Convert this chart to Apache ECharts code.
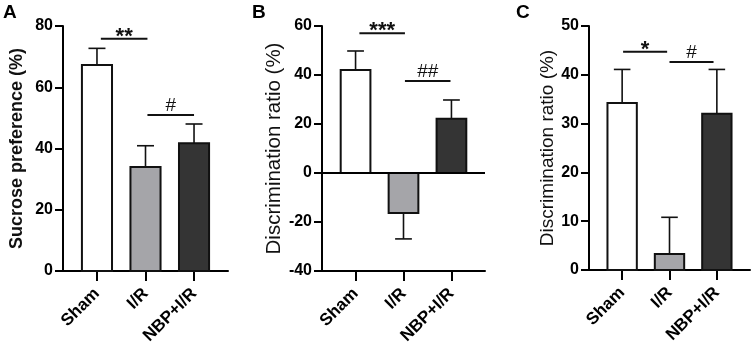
<!DOCTYPE html>
<html>
<head>
<meta charset="utf-8">
<script src="https://cdn.jsdelivr.net/npm/echarts@6/dist/echarts.min.js"></script>
<style>
  html, body { margin: 0; padding: 0; background: #fff; }
  #chart { width: 754px; height: 351px; }
</style>
</head>
<body>
<div id="chart"></div>
<script>
// groups (same for all three panels)
var categories = ['Sham', 'I/R', 'NBP+I/R'];
var barColors = ['#ffffff', '#a5a5a9', '#343434'];

// panel A - sucrose preference (mean, SEM)
var sucroseMean = [67.3, 34.0, 41.7];
var sucroseErr = [5.4, 6.9, 6.3];
// panel B - discrimination ratio
var discrBMean = [42.0, -16.3, 22.1];
var discrBErr = [7.8, 10.6, 7.7];
// panel C - discrimination ratio
var discrCMean = [34.2, 3.3, 32.0];
var discrCErr = [6.9, 7.5, 9.1];

// significance bars: [from, to, y]
var sigA = [[0.08, 1.04, 75.8], [1.04, 2.0, 50.9]];
var sigAMarks = ['**', '#'];
var sigB = [[0.08, 1.03, 57.0], [1.03, 1.98, 37.6]];
var sigBMarks = ['***', '##'];
var sigC = [[0.02, 0.95, 44.7], [1.0, 1.93, 42.6]];
var sigCMarks = ['*', '#'];

var FONT = 'Liberation Sans, Arial, sans-serif';

function barData(mean, err) {
    var out = [];
    for (var i = 0; i < mean.length; i++) {
        out.push([i, mean[i], err[i], i]);
    }
    return out;
}

function renderBar(params, api) {
    var x = api.value(0), v = api.value(1), e = api.value(2), idx = api.value(3);
    var top = api.coord([x, v]);
    var base = api.coord([x, 0]);
    var end = api.coord([x, v < 0 ? v - e : v + e]);
    var w = api.size([0.62, 0])[0];
    var cap = api.size([0.35, 0])[0];
    var ls = { stroke: '#111', lineWidth: 1.6 };
    return {
        type: 'group',
        children: [
            { type: 'line', shape: { x1: top[0], y1: top[1], x2: end[0], y2: end[1] }, style: ls },
            { type: 'line', shape: { x1: end[0] - cap / 2, y1: end[1], x2: end[0] + cap / 2, y2: end[1] }, style: ls },
            {
                type: 'rect',
                shape: { x: top[0] - w / 2, y: Math.min(top[1], base[1]), width: w, height: Math.abs(base[1] - top[1]) },
                style: { fill: barColors[idx], stroke: '#111', lineWidth: 2 }
            }
        ]
    };
}

function sigRenderer(marks) {
    return function (params, api) {
        var a = api.coord([api.value(0), api.value(2)]);
        var b = api.coord([api.value(1), api.value(2)]);
        var mark = marks[params.dataIndex];
        var star = mark.indexOf('*') >= 0;
        return {
            type: 'group',
            children: [
                { type: 'line', shape: { x1: a[0], y1: a[1], x2: b[0], y2: b[1] }, style: { stroke: '#111', lineWidth: 2 } },
                {
                    type: 'text',
                    x: (a[0] + b[0]) / 2,
                    y: star ? a[1] - 2 : a[1] - 9,
                    style: {
                        text: mark, fill: '#111', align: 'center', verticalAlign: 'middle',
                        font: (star ? 'bold 22px ' : '19px ') + FONT
                    }
                }
            ]
        };
    };
}

function xAxisFor(i) {
    return {
        type: 'value', gridIndex: i, min: -0.7, max: 2.7,
        splitLine: { show: false },
        axisLine: { onZero: false, lineStyle: { color: '#000', width: 2 } },
        axisTick: { customValues: [0, 1, 2], length: 10, lineStyle: { color: '#000', width: 2 } },
        axisLabel: {
            customValues: [0, 1, 2], rotate: 45, margin: 20,
            formatter: function (v) { return categories[Math.round(v)]; },
            color: '#000', fontFamily: FONT, fontWeight: 'bold', fontSize: 17
        }
    };
}

function yAxisFor(i, min, max, step, name, nameSize, bold, gap) {
    return {
        type: 'value', gridIndex: i, min: min, max: max, interval: step,
        name: name, nameLocation: 'middle', nameGap: gap,
        nameTextStyle: { color: '#111', fontFamily: FONT, fontSize: nameSize, fontWeight: bold ? 'bold' : 'normal' },
        splitLine: { show: false },
        axisLine: { show: true, onZero: false, lineStyle: { color: '#000', width: 2 } },
        axisTick: { show: true, length: 8, lineStyle: { color: '#000', width: 2 } },
        axisLabel: { color: '#000', fontFamily: FONT, fontWeight: 'bold', fontSize: 16, margin: 10 }
    };
}

var myChart = echarts.init(document.getElementById('chart'), null, { renderer: 'canvas' });

var option = {
    animation: false,
    backgroundColor: '#fff',
    grid: [
        { left: 63, top: 26, width: 165, height: 245 },
        { left: 322, top: 26, width: 163, height: 245 },
        { left: 589, top: 26, width: 161, height: 244 }
    ],
    xAxis: [xAxisFor(0), xAxisFor(1), xAxisFor(2)],
    yAxis: [
        yAxisFor(0, 0, 80, 20, 'Sucrose preference (%)', 18, true, 37),
        yAxisFor(1, -40, 60, 20, 'Discrimination ratio (%)', 20.5, false, 37),
        yAxisFor(2, 0, 50, 10, 'Discrimination ratio (%)', 19, false, 30)
    ],
    graphic: [
        { type: 'text', left: 3, top: 3, style: { text: 'A', font: 'bold 19px ' + FONT, fill: '#000' } },
        { type: 'text', left: 252, top: 3, style: { text: 'B', font: 'bold 19px ' + FONT, fill: '#000' } },
        { type: 'text', left: 516, top: 3, style: { text: 'C', font: 'bold 19px ' + FONT, fill: '#000' } }
    ],
    series: [
        {
            type: 'custom', xAxisIndex: 0, yAxisIndex: 0, renderItem: renderBar,
            encode: { x: 0, y: 1 }, data: barData(sucroseMean, sucroseErr)
        },
        {
            type: 'custom', xAxisIndex: 1, yAxisIndex: 1, renderItem: renderBar,
            encode: { x: 0, y: 1 }, data: barData(discrBMean, discrBErr),
            markLine: {
                silent: true, symbol: 'none', label: { show: false },
                lineStyle: { color: '#000', width: 2, type: 'solid' },
                data: [{ yAxis: 0 }]
            }
        },
        {
            type: 'custom', xAxisIndex: 2, yAxisIndex: 2, renderItem: renderBar,
            encode: { x: 0, y: 1 }, data: barData(discrCMean, discrCErr)
        },
        { type: 'custom', xAxisIndex: 0, yAxisIndex: 0, renderItem: sigRenderer(sigAMarks), encode: { x: [0, 1], y: 2 }, data: sigA },
        { type: 'custom', xAxisIndex: 1, yAxisIndex: 1, renderItem: sigRenderer(sigBMarks), encode: { x: [0, 1], y: 2 }, data: sigB },
        { type: 'custom', xAxisIndex: 2, yAxisIndex: 2, renderItem: sigRenderer(sigCMarks), encode: { x: [0, 1], y: 2 }, data: sigC }
    ]
};

myChart.setOption(option);
</script>
</body>
</html>
